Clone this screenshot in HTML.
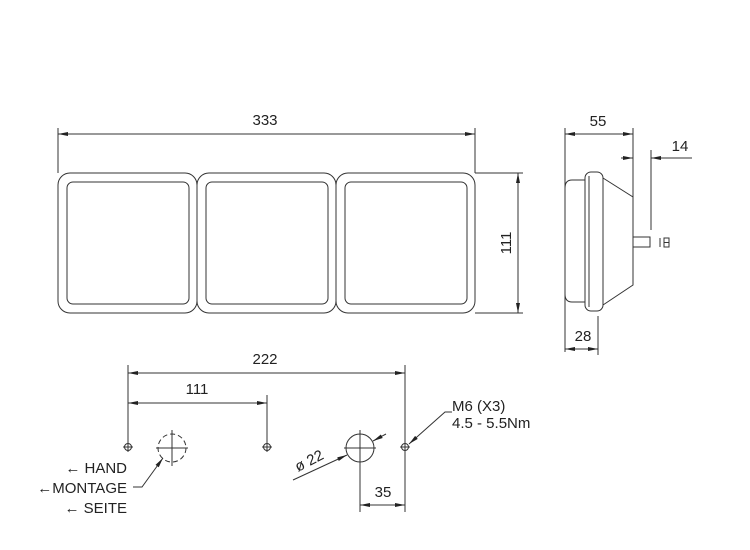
<!DOCTYPE html>
<html><head><style>
html,body{margin:0;padding:0;background:#fff;}
svg{display:block;}
text{font-family:"Liberation Sans",Arial,sans-serif;fill:#222;}
</style></head><body>
<svg width="750" height="550" viewBox="0 0 750 550" xmlns="http://www.w3.org/2000/svg">
<defs>
<marker id="a" viewBox="0 0 10 6" refX="10" refY="3" markerWidth="10" markerHeight="6" orient="auto-start-reverse" markerUnits="userSpaceOnUse"><path d="M0,1 L10,3 L0,5 Z" fill="#222"/></marker>
</defs>
<g stroke="#333" stroke-width="1" fill="none">
<rect x="58" y="173" width="139" height="140" rx="12"/>
<rect x="197" y="173" width="139" height="140" rx="12"/>
<rect x="336" y="173" width="139" height="140" rx="12"/>
<rect x="67" y="182" width="122" height="122" rx="6"/>
<rect x="206" y="182" width="122" height="122" rx="6"/>
<rect x="345" y="182" width="122" height="122" rx="6"/>
<line x1="58" y1="128" x2="58" y2="173"/>
<line x1="475" y1="128" x2="475" y2="173"/>
<line x1="58" y1="134" x2="475" y2="134" marker-start="url(#a)" marker-end="url(#a)"/>
<line x1="475" y1="173" x2="523" y2="173"/>
<line x1="475" y1="313" x2="523" y2="313"/>
<line x1="518" y1="173" x2="518" y2="313" marker-start="url(#a)" marker-end="url(#a)"/>
<path d="M585,180 L572,180 Q565,180 565,188 L565,294 Q565,302 572,302 L585,302"/>
<rect x="585" y="172" width="18" height="139" rx="6"/>
<line x1="589" y1="176" x2="589" y2="307"/>
<path d="M603,178 L633,197 L633,285 L603,305"/>
<rect x="633" y="237" width="17" height="10"/>
<line x1="565" y1="128" x2="565" y2="352"/>
<line x1="633" y1="128" x2="633" y2="197"/>
<line x1="565" y1="134" x2="633" y2="134" marker-start="url(#a)" marker-end="url(#a)"/>
<line x1="621" y1="158" x2="633" y2="158" marker-end="url(#a)"/>
<line x1="692" y1="158" x2="651" y2="158" marker-end="url(#a)"/>
<line x1="651" y1="150" x2="651" y2="230"/>
<line x1="598" y1="316" x2="598" y2="355"/>
<line x1="565" y1="349" x2="598" y2="349" marker-start="url(#a)" marker-end="url(#a)"/>
<line x1="660" y1="238" x2="660" y2="247"/>
<rect x="664" y="238" width="5" height="9"/>
<line x1="664" y1="242.5" x2="669" y2="242.5"/>
<line x1="128" y1="365" x2="128" y2="442"/>
<line x1="267" y1="395" x2="267" y2="442"/>
<line x1="405" y1="365" x2="405" y2="512"/>
<line x1="128" y1="373" x2="405" y2="373" marker-start="url(#a)" marker-end="url(#a)"/>
<line x1="128" y1="403" x2="267" y2="403" marker-start="url(#a)" marker-end="url(#a)"/>
<circle cx="128" cy="447" r="3.5"/><line x1="123" y1="447" x2="133" y2="447"/><line x1="128" y1="442" x2="128" y2="452"/>
<circle cx="267" cy="447" r="3.5"/><line x1="262" y1="447" x2="272" y2="447"/><line x1="267" y1="442" x2="267" y2="452"/>
<circle cx="405" cy="447" r="3.5"/><line x1="400" y1="447" x2="410" y2="447"/>
<circle cx="172" cy="448" r="14" stroke-dasharray="5,3"/>
<line x1="156" y1="448" x2="188" y2="448"/><line x1="172" y1="430" x2="172" y2="466"/>
<path d="M133,487 L142,487 L163,458" marker-end="url(#a)"/>
<circle cx="360" cy="448" r="14"/>
<line x1="344" y1="448" x2="376" y2="448"/>
<line x1="360" y1="430" x2="360" y2="512"/>
<line x1="360" y1="505" x2="405" y2="505" marker-start="url(#a)" marker-end="url(#a)"/>
<line x1="293" y1="480" x2="347" y2="455" marker-end="url(#a)"/>
<line x1="386" y1="434" x2="373" y2="441" marker-end="url(#a)"/>
<path d="M452,412 L445,412 L409,444" marker-end="url(#a)"/>
</g>
<g font-size="15">
<text x="265" y="125" text-anchor="middle">333</text>
<text x="598" y="126" text-anchor="middle">55</text>
<text x="680" y="151" text-anchor="middle">14</text>
<text x="583" y="341" text-anchor="middle">28</text>
<text transform="translate(511,243) rotate(-90)" text-anchor="middle">111</text>
<text x="265" y="364" text-anchor="middle">222</text>
<text x="197" y="394" text-anchor="middle">111</text>
<text x="383" y="497" text-anchor="middle">35</text>
<text x="452" y="411">M6 (X3)</text>
<text x="452" y="428">4.5 - 5.5Nm</text>
<text transform="translate(298,472) rotate(-27)">ø 22</text>
<text x="127" y="473" text-anchor="end">← HAND</text>
<text x="127" y="493" text-anchor="end">←MONTAGE</text>
<text x="127" y="513" text-anchor="end">← SEITE</text>
</g>
</svg>
</body></html>
